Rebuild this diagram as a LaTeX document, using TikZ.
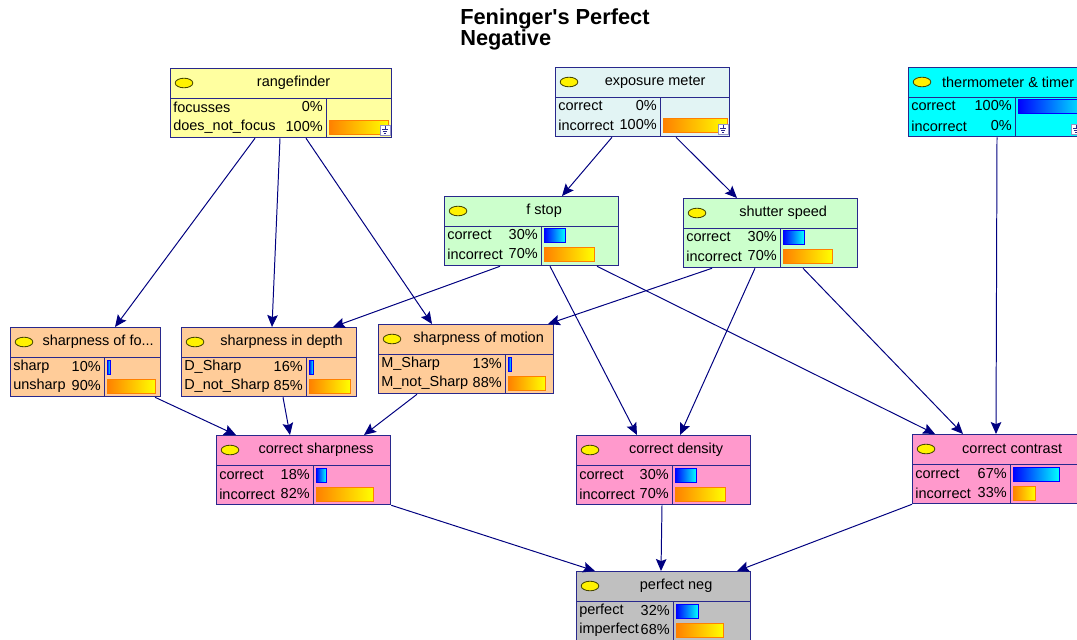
\documentclass[tikz,border=0pt]{standalone}
\usepackage{fontspec}
\setmainfont{Liberation Sans}
\usetikzlibrary{arrows.meta,calc}

\definecolor{bnborder}{RGB}{40,40,140}
\definecolor{bnarrow}{RGB}{0,0,128}
\definecolor{markline}{RGB}{70,70,0}
\definecolor{rfyellow}{RGB}{255,255,160}
\definecolor{empale}{RGB}{226,244,244}
\definecolor{ttcyan}{RGB}{0,255,255}
\definecolor{fsgreen}{RGB}{204,255,204}
\definecolor{shpeach}{RGB}{255,204,153}
\definecolor{crpink}{RGB}{255,153,204}
\definecolor{pngrey}{RGB}{192,192,192}
\definecolor{barorange}{RGB}{255,128,0}

\newcommand\pxu{0.025cm}

\tikzset{
  bnbox/.style={draw=bnborder, line width=0.9pt, inner sep=0pt, anchor=north west,
    minimum height=69*\pxu},
  bnline/.style={draw=bnborder, line width=0.7pt},
  bnmark/.style={draw=markline, fill=yellow, line width=0.6pt},
  bnlabel/.style={inner sep=0pt, font=\fontsize{10.3}{12}\selectfont},
  bntext/.style={inner sep=0pt, font=\fontsize{10.3}{12}\selectfont},
  bntitle/.style={anchor=north west, align=left, inner sep=0pt,
    font=\bfseries\fontsize{15.5}{13}\selectfont},
  bluebar/.style={draw=blue, line width=0.6pt, left color=blue, right color=cyan},
  orangebar/.style={draw=orange, line width=0.6pt, left color=barorange, right color=yellow},
  bnicon/.style={draw=bnborder!50, fill=white, line width=0.4pt},
  edge/.style={draw=bnarrow, line width=0.7pt,
    -{Stealth[length=8.5pt, width=7.5pt, inset=1.5pt]}}
}

% box with header, divider, mark and title
\newcommand\bnnode[7]{%
  \node[bnbox, fill=#6, minimum width=#4*\pxu] (#1) at (#2,#3) {};
  \draw[bnline] ($(#1.north west)+(0,30)$) -- ($(#1.north east)+(0,30)$);
  \draw[bnline] ($(#1.north west)+(#5,30)$) -- ($(#1.south west)+(#5,0)$);
  \draw[bnmark] ($(#1.north west)+(14,15)$) ellipse (0.22cm and 0.12cm);
  \node[bnlabel] (#1-title) at ($(#1.north west)!0.5!(#1.north east)+(12.5,15)$) {#7};
}
% state row: name, key, y offset, label, percent, divider
\newcommand\bnstate[6]{%
  \node[bntext, anchor=west] (#1-#2) at ($(#1.north west)+(3,#3)$) {#4};
  \node[bntext, anchor=east] (#1-#2-p) at ($(#1.north west)+(#6-3,#3)$) {#5};
}
% bar: name, y offset, divider, length, style
\newcommand\bnbar[5]{%
  \draw[#5] ($(#1.north west)+(#3+3,#2-7)$) rectangle ++(#4,14);
}
\newcommand\bnicon[1]{%
  \draw[bnicon] ($(#1.south east)+(-12,-13)$) rectangle ++(10,10);
  \draw[bnborder, line width=0.4pt] ($(#1.south east)+(-7,-12)$) -- ++(0,3)
    ++(-3,0) -- ++(6,0) ++(-5,2) -- ++(4,0) ++(-3,2) -- ++(2,0);
}

\begin{document}
\begin{tikzpicture}[x=0.025cm, y=-0.025cm]
  \useasboundingbox (0,0) rectangle (1077,639);
  \clip (0,0) rectangle (1077,639);
  \fill[white] (0,0) rectangle (1077,639);
  %%%%%%%%%%%%%%%%%%%%%%%%%%%%%%%%%%%%%%%%%%%%%%%
  \node[bntitle] (title) at (460,8) {Feninger\textquotesingle s Perfect\\Negative};
  %%%%%%%%%%%%%%%%%%%%%%%%%%%%%%%%%%%%%%%%%%%%%%%
  \bnnode{rf}{170}{68}{221}{156}{rfyellow}{rangefinder}
  \bnstate{rf}{a}{39}{focusses}{0\%}{156}
  \bnstate{rf}{b}{59}{does\_not\_focus}{100\%}{156}
  \bnbar{rf}{59}{156}{59}{orangebar}
  \bnicon{rf}

  \bnnode{em}{555}{67}{174}{105}{empale}{exposure meter}
  \bnstate{em}{a}{39}{correct}{0\%}{105}
  \bnstate{em}{b}{58}{incorrect}{100\%}{105}
  \bnbar{em}{58}{105}{64}{orangebar}
  \bnicon{em}

  \bnnode{tt}{908}{67}{174}{107}{ttcyan}{thermometer \& timer}
  \bnstate{tt}{a}{39}{correct}{100\%}{107}
  \bnstate{tt}{b}{59}{incorrect}{0\%}{107}
  \bnbar{tt}{39}{107}{71}{bluebar}
  \bnicon{tt}
  %%%%%%%%%%%%%%%%%%%%%%%%%%%%%%%%%%%%%%%%%%%%%%%
  \bnnode{fs}{444}{196}{174}{97}{fsgreen}{f stop}
  \bnstate{fs}{a}{39}{correct}{30\%}{97}
  \bnstate{fs}{b}{58}{incorrect}{70\%}{97}
  \bnbar{fs}{39}{97}{21}{bluebar}
  \bnbar{fs}{58}{97}{50}{orangebar}

  \bnnode{ss}{683}{198}{174}{97}{fsgreen}{shutter speed}
  \bnstate{ss}{a}{39}{correct}{30\%}{97}
  \bnstate{ss}{b}{58}{incorrect}{70\%}{97}
  \bnbar{ss}{39}{97}{21}{bluebar}
  \bnbar{ss}{58}{97}{49}{orangebar}
  %%%%%%%%%%%%%%%%%%%%%%%%%%%%%%%%%%%%%%%%%%%%%%%
  \bnnode{sf}{10}{327}{150}{94}{shpeach}{sharpness of fo...}
  \bnstate{sf}{a}{40}{sharp}{10\%}{94}
  \bnstate{sf}{b}{59}{unsharp}{90\%}{94}
  \bnbar{sf}{40}{94}{3}{bluebar}
  \bnbar{sf}{59}{94}{48}{orangebar}

  \bnnode{sd}{181}{327}{175}{125}{shpeach}{sharpness in depth}
  \bnstate{sd}{a}{40}{D\_Sharp}{16\%}{125}
  \bnstate{sd}{b}{59}{D\_not\_Sharp}{85\%}{125}
  \bnbar{sd}{40}{125}{4}{bluebar}
  \bnbar{sd}{59}{125}{41}{orangebar}

  \bnnode{sm}{378}{324}{175}{127}{shpeach}{sharpness of motion}
  \bnstate{sm}{a}{40}{M\_Sharp}{13\%}{127}
  \bnstate{sm}{b}{59}{M\_not\_Sharp}{88\%}{127}
  \bnbar{sm}{40}{127}{3}{bluebar}
  \bnbar{sm}{59}{127}{37}{orangebar}
  %%%%%%%%%%%%%%%%%%%%%%%%%%%%%%%%%%%%%%%%%%%%%%%
  \bnnode{cs}{216}{435}{174}{97}{crpink}{correct sharpness}
  \bnstate{cs}{a}{40}{correct}{18\%}{97}
  \bnstate{cs}{b}{59}{incorrect}{82\%}{97}
  \bnbar{cs}{40}{97}{10}{bluebar}
  \bnbar{cs}{59}{97}{57}{orangebar}

  \bnnode{cd}{576}{435}{174}{96}{crpink}{correct density}
  \bnstate{cd}{a}{40}{correct}{30\%}{96}
  \bnstate{cd}{b}{59}{incorrect}{70\%}{96}
  \bnbar{cd}{40}{96}{21}{bluebar}
  \bnbar{cd}{59}{96}{50}{orangebar}

  \bnnode{cc}{912}{434}{174}{98}{crpink}{correct contrast}
  \bnstate{cc}{a}{40}{correct}{67\%}{98}
  \bnstate{cc}{b}{59}{incorrect}{33\%}{98}
  \bnbar{cc}{40}{98}{46}{bluebar}
  \bnbar{cc}{59}{98}{22}{orangebar}
  %%%%%%%%%%%%%%%%%%%%%%%%%%%%%%%%%%%%%%%%%%%%%%%
  \bnnode{pn}{576}{571}{174}{97}{pngrey}{perfect neg}
  \bnstate{pn}{a}{40}{perfect}{32\%}{97}
  \bnstate{pn}{b}{59}{imperfect}{68\%}{97}
  \bnbar{pn}{40}{97}{22}{bluebar}
  \bnbar{pn}{59}{97}{47}{orangebar}
  %%%%%%%%%%%%%%%%%%%%%%%%%%%%%%%%%%%%%%%%%%%%%%%
  \draw[edge] ($(rf.south west)+(85,0)$)  -- ($(sf.north west)+(105,0)$);
  \draw[edge] ($(rf.south west)+(110,0)$) -- ($(sd.north west)+(91,0)$);
  \draw[edge] ($(rf.south west)+(136,0)$) -- ($(sm.north west)+(54,0)$);
  \draw[edge] ($(em.south west)+(57,0)$)  -- ($(fs.north west)+(118,0)$);
  \draw[edge] ($(em.south west)+(121,0)$) -- ($(ss.north west)+(54,0)$);
  \draw[edge] ($(tt.south west)+(89,0)$)  -- ($(cc.north west)+(84,0)$);
  \draw[edge] ($(fs.south west)+(56,0)$)  -- ($(sd.north west)+(152,0)$);
  \draw[edge] ($(ss.south west)+(29,0)$)  -- ($(sm.north west)+(170,0)$);
  \draw[edge] ($(fs.south west)+(106,0)$) -- ($(cd.north west)+(61,0)$);
  \draw[edge] ($(fs.south west)+(153,0)$) -- ($(cc.north west)+(23,0)$);
  \draw[edge] ($(ss.south west)+(72,0)$)  -- ($(cd.north west)+(104,0)$);
  \draw[edge] ($(ss.south west)+(120,0)$) -- ($(cc.north west)+(51,0)$);
  \draw[edge] ($(sf.south west)+(145,0)$) -- ($(cs.north west)+(20,0)$);
  \draw[edge] ($(sd.south west)+(102,0)$) -- ($(cs.north west)+(74,0)$);
  \draw[edge] ($(sm.south west)+(39,0)$)  -- ($(cs.north west)+(148,0)$);
  \draw[edge] (cs.south east) -- ($(pn.north west)+(19,0)$);
  \draw[edge] ($(cd.south west)+(86,0)$)  -- ($(pn.north west)+(85,0)$);
  \draw[edge] (cc.south west) -- ($(pn.north west)+(161,0)$);
\end{tikzpicture}
\end{document}
